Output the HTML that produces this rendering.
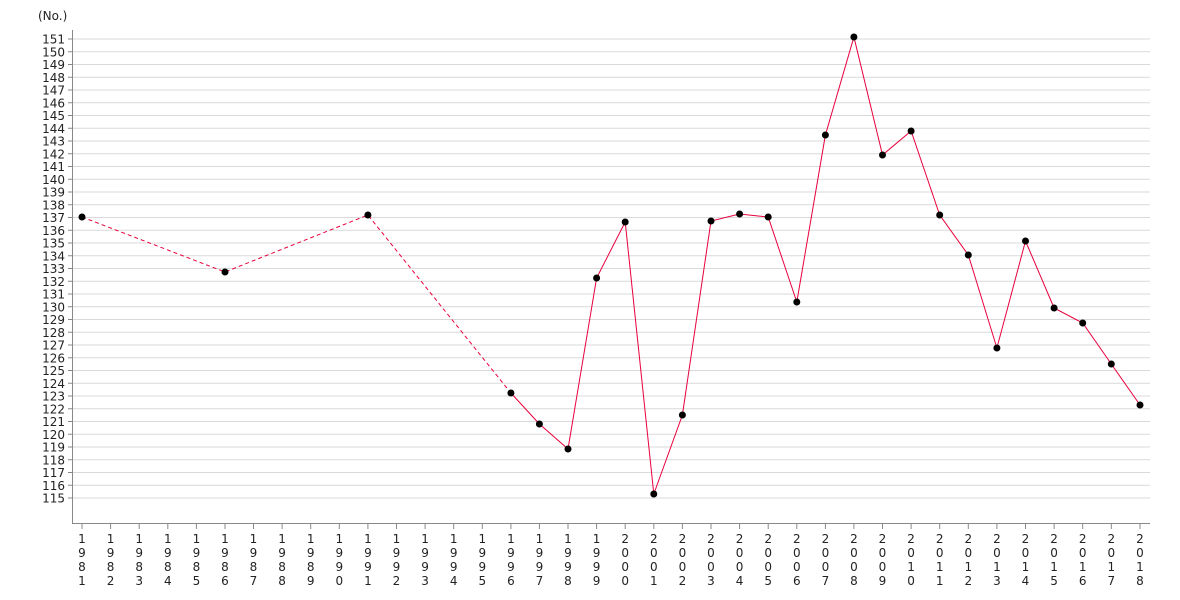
<!DOCTYPE html>
<html><head><meta charset="utf-8"><style>
html,body{margin:0;padding:0;background:#fff;}
svg{display:block;font-family:"DejaVu Sans","Liberation Sans",sans-serif;font-size:12px;fill:#222;}
</style></head><body>
<svg width="1180" height="600" viewBox="0 0 1180 600" xmlns="http://www.w3.org/2000/svg">
<text x="38" y="20" font-size="12">(No.)</text>
<g stroke="#d9d9d9" stroke-width="1">
<line x1="72" x2="1150" y1="39" y2="39"/><line x1="72" x2="1150" y1="51.75" y2="51.75"/><line x1="72" x2="1150" y1="64.5" y2="64.5"/><line x1="72" x2="1150" y1="77.25" y2="77.25"/><line x1="72" x2="1150" y1="90" y2="90"/><line x1="72" x2="1150" y1="102.75" y2="102.75"/><line x1="72" x2="1150" y1="115.5" y2="115.5"/><line x1="72" x2="1150" y1="128.25" y2="128.25"/><line x1="72" x2="1150" y1="141" y2="141"/><line x1="72" x2="1150" y1="153.75" y2="153.75"/><line x1="72" x2="1150" y1="166.5" y2="166.5"/><line x1="72" x2="1150" y1="179.25" y2="179.25"/><line x1="72" x2="1150" y1="192" y2="192"/><line x1="72" x2="1150" y1="204.75" y2="204.75"/><line x1="72" x2="1150" y1="217.5" y2="217.5"/><line x1="72" x2="1150" y1="230.25" y2="230.25"/><line x1="72" x2="1150" y1="243" y2="243"/><line x1="72" x2="1150" y1="255.75" y2="255.75"/><line x1="72" x2="1150" y1="268.5" y2="268.5"/><line x1="72" x2="1150" y1="281.25" y2="281.25"/><line x1="72" x2="1150" y1="294" y2="294"/><line x1="72" x2="1150" y1="306.75" y2="306.75"/><line x1="72" x2="1150" y1="319.5" y2="319.5"/><line x1="72" x2="1150" y1="332.25" y2="332.25"/><line x1="72" x2="1150" y1="345" y2="345"/><line x1="72" x2="1150" y1="357.75" y2="357.75"/><line x1="72" x2="1150" y1="370.5" y2="370.5"/><line x1="72" x2="1150" y1="383.25" y2="383.25"/><line x1="72" x2="1150" y1="396" y2="396"/><line x1="72" x2="1150" y1="408.75" y2="408.75"/><line x1="72" x2="1150" y1="421.5" y2="421.5"/><line x1="72" x2="1150" y1="434.25" y2="434.25"/><line x1="72" x2="1150" y1="447" y2="447"/><line x1="72" x2="1150" y1="459.75" y2="459.75"/><line x1="72" x2="1150" y1="472.5" y2="472.5"/><line x1="72" x2="1150" y1="485.25" y2="485.25"/><line x1="72" x2="1150" y1="498" y2="498"/>
</g>
<g stroke="#888" stroke-width="1">
<line x1="72.5" x2="72.5" y1="30" y2="524"/>
<line x1="72" x2="1150" y1="523.5" y2="523.5"/>
</g>
<g stroke="#888" stroke-width="1">
<line x1="68" x2="72" y1="39" y2="39"/><line x1="68" x2="72" y1="51.75" y2="51.75"/><line x1="68" x2="72" y1="64.5" y2="64.5"/><line x1="68" x2="72" y1="77.25" y2="77.25"/><line x1="68" x2="72" y1="90" y2="90"/><line x1="68" x2="72" y1="102.75" y2="102.75"/><line x1="68" x2="72" y1="115.5" y2="115.5"/><line x1="68" x2="72" y1="128.25" y2="128.25"/><line x1="68" x2="72" y1="141" y2="141"/><line x1="68" x2="72" y1="153.75" y2="153.75"/><line x1="68" x2="72" y1="166.5" y2="166.5"/><line x1="68" x2="72" y1="179.25" y2="179.25"/><line x1="68" x2="72" y1="192" y2="192"/><line x1="68" x2="72" y1="204.75" y2="204.75"/><line x1="68" x2="72" y1="217.5" y2="217.5"/><line x1="68" x2="72" y1="230.25" y2="230.25"/><line x1="68" x2="72" y1="243" y2="243"/><line x1="68" x2="72" y1="255.75" y2="255.75"/><line x1="68" x2="72" y1="268.5" y2="268.5"/><line x1="68" x2="72" y1="281.25" y2="281.25"/><line x1="68" x2="72" y1="294" y2="294"/><line x1="68" x2="72" y1="306.75" y2="306.75"/><line x1="68" x2="72" y1="319.5" y2="319.5"/><line x1="68" x2="72" y1="332.25" y2="332.25"/><line x1="68" x2="72" y1="345" y2="345"/><line x1="68" x2="72" y1="357.75" y2="357.75"/><line x1="68" x2="72" y1="370.5" y2="370.5"/><line x1="68" x2="72" y1="383.25" y2="383.25"/><line x1="68" x2="72" y1="396" y2="396"/><line x1="68" x2="72" y1="408.75" y2="408.75"/><line x1="68" x2="72" y1="421.5" y2="421.5"/><line x1="68" x2="72" y1="434.25" y2="434.25"/><line x1="68" x2="72" y1="447" y2="447"/><line x1="68" x2="72" y1="459.75" y2="459.75"/><line x1="68" x2="72" y1="472.5" y2="472.5"/><line x1="68" x2="72" y1="485.25" y2="485.25"/><line x1="68" x2="72" y1="498" y2="498"/>
</g>
<g text-anchor="end">
<text x="65" y="43.5">151</text><text x="65" y="56.25">150</text><text x="65" y="69">149</text><text x="65" y="81.75">148</text><text x="65" y="94.5">147</text><text x="65" y="107.25">146</text><text x="65" y="120">145</text><text x="65" y="132.75">144</text><text x="65" y="145.5">143</text><text x="65" y="158.25">142</text><text x="65" y="171">141</text><text x="65" y="183.75">140</text><text x="65" y="196.5">139</text><text x="65" y="209.25">138</text><text x="65" y="222">137</text><text x="65" y="234.75">136</text><text x="65" y="247.5">135</text><text x="65" y="260.25">134</text><text x="65" y="273">133</text><text x="65" y="285.75">132</text><text x="65" y="298.5">131</text><text x="65" y="311.25">130</text><text x="65" y="324">129</text><text x="65" y="336.75">128</text><text x="65" y="349.5">127</text><text x="65" y="362.25">126</text><text x="65" y="375">125</text><text x="65" y="387.75">124</text><text x="65" y="400.5">123</text><text x="65" y="413.25">122</text><text x="65" y="426">121</text><text x="65" y="438.75">120</text><text x="65" y="451.5">119</text><text x="65" y="464.25">118</text><text x="65" y="477">117</text><text x="65" y="489.75">116</text><text x="65" y="502.5">115</text>
</g>
<g stroke="#888" stroke-width="1">
<line x1="82" x2="82" y1="524" y2="529"/><line x1="110.6" x2="110.6" y1="524" y2="529"/><line x1="139.2" x2="139.2" y1="524" y2="529"/><line x1="167.8" x2="167.8" y1="524" y2="529"/><line x1="196.4" x2="196.4" y1="524" y2="529"/><line x1="225" x2="225" y1="524" y2="529"/><line x1="253.5" x2="253.5" y1="524" y2="529"/><line x1="282.1" x2="282.1" y1="524" y2="529"/><line x1="310.7" x2="310.7" y1="524" y2="529"/><line x1="339.3" x2="339.3" y1="524" y2="529"/><line x1="367.9" x2="367.9" y1="524" y2="529"/><line x1="396.5" x2="396.5" y1="524" y2="529"/><line x1="425.1" x2="425.1" y1="524" y2="529"/><line x1="453.7" x2="453.7" y1="524" y2="529"/><line x1="482.3" x2="482.3" y1="524" y2="529"/><line x1="510.9" x2="510.9" y1="524" y2="529"/><line x1="539.4" x2="539.4" y1="524" y2="529"/><line x1="568" x2="568" y1="524" y2="529"/><line x1="596.6" x2="596.6" y1="524" y2="529"/><line x1="625.2" x2="625.2" y1="524" y2="529"/><line x1="653.8" x2="653.8" y1="524" y2="529"/><line x1="682.4" x2="682.4" y1="524" y2="529"/><line x1="711" x2="711" y1="524" y2="529"/><line x1="739.6" x2="739.6" y1="524" y2="529"/><line x1="768.2" x2="768.2" y1="524" y2="529"/><line x1="796.8" x2="796.8" y1="524" y2="529"/><line x1="825.4" x2="825.4" y1="524" y2="529"/><line x1="853.9" x2="853.9" y1="524" y2="529"/><line x1="882.5" x2="882.5" y1="524" y2="529"/><line x1="911.1" x2="911.1" y1="524" y2="529"/><line x1="939.7" x2="939.7" y1="524" y2="529"/><line x1="968.3" x2="968.3" y1="524" y2="529"/><line x1="996.9" x2="996.9" y1="524" y2="529"/><line x1="1025.5" x2="1025.5" y1="524" y2="529"/><line x1="1054.1" x2="1054.1" y1="524" y2="529"/><line x1="1082.7" x2="1082.7" y1="524" y2="529"/><line x1="1111.3" x2="1111.3" y1="524" y2="529"/><line x1="1140" x2="1140" y1="524" y2="529"/>
</g>
<g text-anchor="middle">
<text x="82" y="543"><tspan x="82">1</tspan><tspan x="82" dy="14">9</tspan><tspan x="82" dy="14">8</tspan><tspan x="82" dy="14">1</tspan></text>
<text x="110.6" y="543"><tspan x="110.6">1</tspan><tspan x="110.6" dy="14">9</tspan><tspan x="110.6" dy="14">8</tspan><tspan x="110.6" dy="14">2</tspan></text>
<text x="139.2" y="543"><tspan x="139.2">1</tspan><tspan x="139.2" dy="14">9</tspan><tspan x="139.2" dy="14">8</tspan><tspan x="139.2" dy="14">3</tspan></text>
<text x="167.8" y="543"><tspan x="167.8">1</tspan><tspan x="167.8" dy="14">9</tspan><tspan x="167.8" dy="14">8</tspan><tspan x="167.8" dy="14">4</tspan></text>
<text x="196.4" y="543"><tspan x="196.4">1</tspan><tspan x="196.4" dy="14">9</tspan><tspan x="196.4" dy="14">8</tspan><tspan x="196.4" dy="14">5</tspan></text>
<text x="225" y="543"><tspan x="225">1</tspan><tspan x="225" dy="14">9</tspan><tspan x="225" dy="14">8</tspan><tspan x="225" dy="14">6</tspan></text>
<text x="253.5" y="543"><tspan x="253.5">1</tspan><tspan x="253.5" dy="14">9</tspan><tspan x="253.5" dy="14">8</tspan><tspan x="253.5" dy="14">7</tspan></text>
<text x="282.1" y="543"><tspan x="282.1">1</tspan><tspan x="282.1" dy="14">9</tspan><tspan x="282.1" dy="14">8</tspan><tspan x="282.1" dy="14">8</tspan></text>
<text x="310.7" y="543"><tspan x="310.7">1</tspan><tspan x="310.7" dy="14">9</tspan><tspan x="310.7" dy="14">8</tspan><tspan x="310.7" dy="14">9</tspan></text>
<text x="339.3" y="543"><tspan x="339.3">1</tspan><tspan x="339.3" dy="14">9</tspan><tspan x="339.3" dy="14">9</tspan><tspan x="339.3" dy="14">0</tspan></text>
<text x="367.9" y="543"><tspan x="367.9">1</tspan><tspan x="367.9" dy="14">9</tspan><tspan x="367.9" dy="14">9</tspan><tspan x="367.9" dy="14">1</tspan></text>
<text x="396.5" y="543"><tspan x="396.5">1</tspan><tspan x="396.5" dy="14">9</tspan><tspan x="396.5" dy="14">9</tspan><tspan x="396.5" dy="14">2</tspan></text>
<text x="425.1" y="543"><tspan x="425.1">1</tspan><tspan x="425.1" dy="14">9</tspan><tspan x="425.1" dy="14">9</tspan><tspan x="425.1" dy="14">3</tspan></text>
<text x="453.7" y="543"><tspan x="453.7">1</tspan><tspan x="453.7" dy="14">9</tspan><tspan x="453.7" dy="14">9</tspan><tspan x="453.7" dy="14">4</tspan></text>
<text x="482.3" y="543"><tspan x="482.3">1</tspan><tspan x="482.3" dy="14">9</tspan><tspan x="482.3" dy="14">9</tspan><tspan x="482.3" dy="14">5</tspan></text>
<text x="510.9" y="543"><tspan x="510.9">1</tspan><tspan x="510.9" dy="14">9</tspan><tspan x="510.9" dy="14">9</tspan><tspan x="510.9" dy="14">6</tspan></text>
<text x="539.4" y="543"><tspan x="539.4">1</tspan><tspan x="539.4" dy="14">9</tspan><tspan x="539.4" dy="14">9</tspan><tspan x="539.4" dy="14">7</tspan></text>
<text x="568" y="543"><tspan x="568">1</tspan><tspan x="568" dy="14">9</tspan><tspan x="568" dy="14">9</tspan><tspan x="568" dy="14">8</tspan></text>
<text x="596.6" y="543"><tspan x="596.6">1</tspan><tspan x="596.6" dy="14">9</tspan><tspan x="596.6" dy="14">9</tspan><tspan x="596.6" dy="14">9</tspan></text>
<text x="625.2" y="543"><tspan x="625.2">2</tspan><tspan x="625.2" dy="14">0</tspan><tspan x="625.2" dy="14">0</tspan><tspan x="625.2" dy="14">0</tspan></text>
<text x="653.8" y="543"><tspan x="653.8">2</tspan><tspan x="653.8" dy="14">0</tspan><tspan x="653.8" dy="14">0</tspan><tspan x="653.8" dy="14">1</tspan></text>
<text x="682.4" y="543"><tspan x="682.4">2</tspan><tspan x="682.4" dy="14">0</tspan><tspan x="682.4" dy="14">0</tspan><tspan x="682.4" dy="14">2</tspan></text>
<text x="711" y="543"><tspan x="711">2</tspan><tspan x="711" dy="14">0</tspan><tspan x="711" dy="14">0</tspan><tspan x="711" dy="14">3</tspan></text>
<text x="739.6" y="543"><tspan x="739.6">2</tspan><tspan x="739.6" dy="14">0</tspan><tspan x="739.6" dy="14">0</tspan><tspan x="739.6" dy="14">4</tspan></text>
<text x="768.2" y="543"><tspan x="768.2">2</tspan><tspan x="768.2" dy="14">0</tspan><tspan x="768.2" dy="14">0</tspan><tspan x="768.2" dy="14">5</tspan></text>
<text x="796.8" y="543"><tspan x="796.8">2</tspan><tspan x="796.8" dy="14">0</tspan><tspan x="796.8" dy="14">0</tspan><tspan x="796.8" dy="14">6</tspan></text>
<text x="825.4" y="543"><tspan x="825.4">2</tspan><tspan x="825.4" dy="14">0</tspan><tspan x="825.4" dy="14">0</tspan><tspan x="825.4" dy="14">7</tspan></text>
<text x="853.9" y="543"><tspan x="853.9">2</tspan><tspan x="853.9" dy="14">0</tspan><tspan x="853.9" dy="14">0</tspan><tspan x="853.9" dy="14">8</tspan></text>
<text x="882.5" y="543"><tspan x="882.5">2</tspan><tspan x="882.5" dy="14">0</tspan><tspan x="882.5" dy="14">0</tspan><tspan x="882.5" dy="14">9</tspan></text>
<text x="911.1" y="543"><tspan x="911.1">2</tspan><tspan x="911.1" dy="14">0</tspan><tspan x="911.1" dy="14">1</tspan><tspan x="911.1" dy="14">0</tspan></text>
<text x="939.7" y="543"><tspan x="939.7">2</tspan><tspan x="939.7" dy="14">0</tspan><tspan x="939.7" dy="14">1</tspan><tspan x="939.7" dy="14">1</tspan></text>
<text x="968.3" y="543"><tspan x="968.3">2</tspan><tspan x="968.3" dy="14">0</tspan><tspan x="968.3" dy="14">1</tspan><tspan x="968.3" dy="14">2</tspan></text>
<text x="996.9" y="543"><tspan x="996.9">2</tspan><tspan x="996.9" dy="14">0</tspan><tspan x="996.9" dy="14">1</tspan><tspan x="996.9" dy="14">3</tspan></text>
<text x="1025.5" y="543"><tspan x="1025.5">2</tspan><tspan x="1025.5" dy="14">0</tspan><tspan x="1025.5" dy="14">1</tspan><tspan x="1025.5" dy="14">4</tspan></text>
<text x="1054.1" y="543"><tspan x="1054.1">2</tspan><tspan x="1054.1" dy="14">0</tspan><tspan x="1054.1" dy="14">1</tspan><tspan x="1054.1" dy="14">5</tspan></text>
<text x="1082.7" y="543"><tspan x="1082.7">2</tspan><tspan x="1082.7" dy="14">0</tspan><tspan x="1082.7" dy="14">1</tspan><tspan x="1082.7" dy="14">6</tspan></text>
<text x="1111.3" y="543"><tspan x="1111.3">2</tspan><tspan x="1111.3" dy="14">0</tspan><tspan x="1111.3" dy="14">1</tspan><tspan x="1111.3" dy="14">7</tspan></text>
<text x="1140" y="543"><tspan x="1140">2</tspan><tspan x="1140" dy="14">0</tspan><tspan x="1140" dy="14">1</tspan><tspan x="1140" dy="14">8</tspan></text>
</g>
<polyline fill="none" stroke="#e8003d" stroke-width="1" stroke-dasharray="4,3" points="82,217 225,272 367.9,215 510.9,393"/>
<polyline fill="none" stroke="#e8003d" stroke-width="1" points="510.9,393 539.4,424 568,449 596.6,278 625.2,222 653.8,494 682.4,415 711,221 739.6,214 768.2,217 796.8,302 825.4,135 853.9,37 882.5,155 911.1,131 939.7,215 968.3,255 996.9,348 1025.5,241 1054.1,308 1082.7,323 1111.3,364 1140,405"/>
<g fill="#000">
<circle cx="82" cy="217" r="3.5"/><circle cx="225" cy="272" r="3.5"/><circle cx="367.9" cy="215" r="3.5"/><circle cx="510.9" cy="393" r="3.5"/><circle cx="539.4" cy="424" r="3.5"/><circle cx="568" cy="449" r="3.5"/><circle cx="596.6" cy="278" r="3.5"/><circle cx="625.2" cy="222" r="3.5"/><circle cx="653.8" cy="494" r="3.5"/><circle cx="682.4" cy="415" r="3.5"/><circle cx="711" cy="221" r="3.5"/><circle cx="739.6" cy="214" r="3.5"/><circle cx="768.2" cy="217" r="3.5"/><circle cx="796.8" cy="302" r="3.5"/><circle cx="825.4" cy="135" r="3.5"/><circle cx="853.9" cy="37" r="3.5"/><circle cx="882.5" cy="155" r="3.5"/><circle cx="911.1" cy="131" r="3.5"/><circle cx="939.7" cy="215" r="3.5"/><circle cx="968.3" cy="255" r="3.5"/><circle cx="996.9" cy="348" r="3.5"/><circle cx="1025.5" cy="241" r="3.5"/><circle cx="1054.1" cy="308" r="3.5"/><circle cx="1082.7" cy="323" r="3.5"/><circle cx="1111.3" cy="364" r="3.5"/><circle cx="1140" cy="405" r="3.5"/>
</g>
</svg>
</body></html>
